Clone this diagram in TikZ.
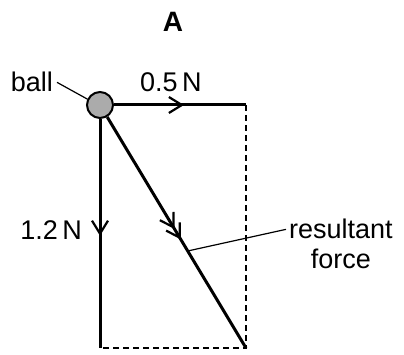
\documentclass[tikz,border=0pt]{standalone}
\usepackage{fontspec}
\setmainfont{Liberation Sans}
\usetikzlibrary{arrows.meta,decorations.markings,positioning}

\tikzset{
  force/.style={line width=3pt},
  guide/.style={line width=1.3pt,dash pattern=on 6pt off 4pt},
  leader/.style={line width=1.2pt},
  lbl/.style={font=\fontsize{27}{29}\selectfont,inner sep=0pt},
  chev/.tip={Straight Barb[length=13pt,width=16pt,line width=2.2pt]},
  barb/.style={postaction={decorate},decoration={markings,
    mark=at position #1 with {\arrow{chev}}}},
  dbarb/.style={postaction={decorate},decoration={markings,
    mark=at position #1-0.045 with {\arrow{chev}},
    mark=at position #1 with {\arrow{chev}}}},
}

\begin{document}
\begin{tikzpicture}[x=1pt,y=-1pt]
\useasboundingbox (0,0) rectangle (404,355);
% ball and corners of the force rectangle
\node[circle,draw,line width=2pt,fill=black!33,minimum size=26pt,inner sep=0pt] (ball) at (100,105) {};
\coordinate (top) at (246,105);
\coordinate (foot) at (100,348);
\coordinate (corner) at (246,348);
%forces
\draw[guide] (top) -- (corner) -- (foot);
\draw[force,barb=0.53] (ball) -- (top);
\draw[force,barb=0.51] (ball) -- (foot);
\draw[force,dbarb=0.53] (ball) -- (corner) coordinate[pos=0.58] (rf);
%labels
\node[lbl,font=\fontsize{28}{30}\selectfont\bfseries] (title) at (173,22) {A};
\node[lbl,anchor=base east] (balltxt) at (53,92) {ball};
\node[lbl,anchor=base west] (hlbl) at (140,92) {0.5\,N};
\node[lbl,anchor=base east] (vlbl) at (82,240) {1.2\,N};
\node[lbl,anchor=base west] (resultant) at (289,239) {resultant};
\node[lbl,below=9pt of resultant] (forcetxt) {force};
%leaders
\draw[leader] ([xshift=4pt]balltxt.east) -- (ball.155);
\draw[leader] (rf) -- ([xshift=-3pt]resultant.west);
\end{tikzpicture}
\end{document}
